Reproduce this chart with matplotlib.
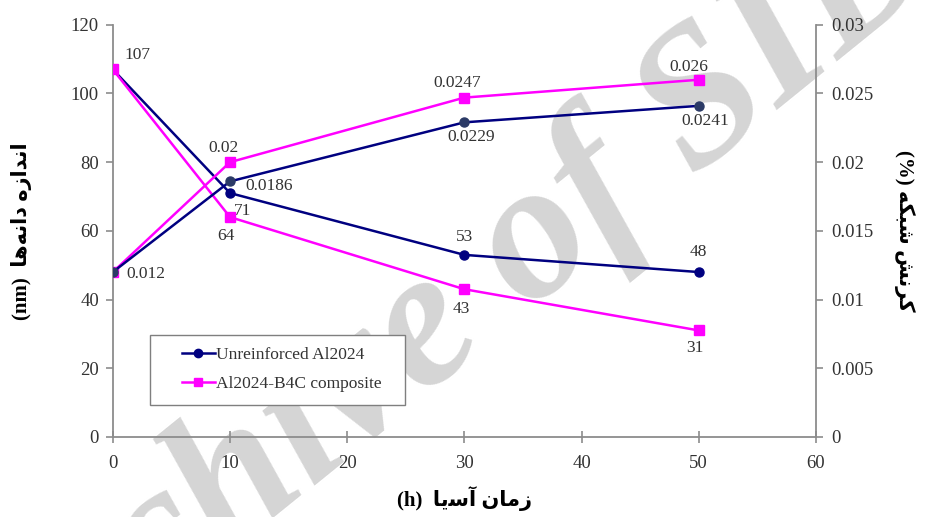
import matplotlib
matplotlib.use("Agg")
import matplotlib.pyplot as plt
from matplotlib.ticker import FuncFormatter
from matplotlib.lines import Line2D
from matplotlib.patches import Rectangle

plt.rcParams["font.family"] = ["Liberation Serif", "DejaVu Sans"]

# ---- data ----
hours = [0, 10, 30, 50]
grain_unreinf = [107, 71, 53, 48]
grain_comp = [107, 64, 43, 31]
strain_unreinf = [0.012, 0.0186, 0.0229, 0.0241]
strain_comp = [0.012, 0.02, 0.0247, 0.026]

grain_lbl_unreinf = ["107", "71", "53", "48"]
grain_lbl_comp = ["", "64", "43", "31"]
strain_lbl_unreinf = ["0.012", "0.0186", "0.0229", "0.0241"]
strain_lbl_comp = ["", "0.02", "0.0247", "0.026"]

legend_names = ["Unreinforced Al2024", "Al2024-B4C composite"]

# Persian labels (presentation forms, visual order)
ylabel_left = "(nm)  \uFE8E\uFEEB\uFEEA\uFEE7\uFE8D\uFEA9 \uFEE9\uFEAF\uFE8D\uFEAA\uFEE7\uFE8D"
ylabel_right = "(%) \uFEEA\uFB91\uFE92\uFEB7 \uFEB6\uFEE7\uFEAE\uFB90"
xlabel = "(h)  \uFE8E\uFBFE\uFEB3\uFE81 \uFEE5\uFE8E\uFEE3\uFEAF"

NAVY = "#000080"
NAVY_MK = "#2b3a66"
MAG = "#ff00ff"
AXC = "#8c8c8c"
TXT = "#333333"

fig = plt.figure(figsize=(9.25, 5.17), dpi=100)
ax = fig.add_axes([0.122, 0.155, 0.760, 0.797])
ax.set_facecolor("none")
ax2 = ax.twinx()
ax2.set_facecolor("none")

# watermark
fig.text(0.48, 0.37, "Archive of SID", rotation=39, fontsize=142,
         fontstyle="italic", fontweight="bold", color="#d5d5d5",
         ha="center", va="center", zorder=-5,
         family=["Liberation Serif", "DejaVu Sans"])

# grain size (left axis)
ax.plot(hours, grain_unreinf, color=NAVY, lw=1.8, marker="o", ms=6.5, zorder=3)
ax.plot(hours, grain_comp, color=MAG, lw=1.8, marker="s", ms=6.5, zorder=4)

# strain (right axis)
ax2.plot(hours, strain_comp, color=MAG, lw=1.8, marker="s", ms=6.5, zorder=3)
ax2.plot(hours, strain_unreinf, color=NAVY, lw=1.8, marker="o", ms=6.5,
         mfc=NAVY_MK, mec=NAVY_MK, zorder=4)

ax.set_xlim(0, 60)
ax.set_ylim(0, 120)
ax2.set_ylim(0, 0.03)
ax.set_xticks(range(0, 61, 10))
ax.set_yticks(range(0, 121, 20))
ax2.set_yticks([0, 0.005, 0.01, 0.015, 0.02, 0.025, 0.03])
ax2.yaxis.set_major_formatter(FuncFormatter(lambda v, p: "%g" % round(v, 4)))

for a in (ax, ax2):
    a.spines["top"].set_visible(False)
    for s in ("left", "right", "bottom"):
        a.spines[s].set_color(AXC)
        a.spines[s].set_linewidth(1.3)
ax.spines["right"].set_visible(False)
ax2.spines["left"].set_visible(False)
ax2.spines["bottom"].set_visible(False)

ax.tick_params(axis="x", direction="inout", length=8, width=1.2, color=AXC,
               labelsize=13.5, labelcolor=TXT, pad=9)
ax.tick_params(axis="y", direction="out", length=5, width=1.2, color=AXC,
               labelsize=13.5, labelcolor=TXT, pad=5)
ax2.tick_params(axis="y", direction="out", length=5, width=1.2, color=AXC,
                labelsize=13.5, labelcolor=TXT, pad=6)

# data labels
fs = 12.5
off_gu = [(25, 14), (13, -18), (0, 18), (0, 20)]
off_gc = [(0, 0), (-4, -19), (-3, -20), (-4, -18)]
off_su = [(33, -2), (39, -5), (7, -15), (7, -15)]
off_sc = [(0, 0), (-7, 14), (-7, 15), (-10, 13)]

for x, y, t, o in zip(hours, grain_unreinf, grain_lbl_unreinf, off_gu):
    ax.annotate(t, (x, y), xytext=o, textcoords="offset pixels", ha="center",
                va="center", fontsize=fs, color=TXT)
for x, y, t, o in zip(hours, grain_comp, grain_lbl_comp, off_gc):
    if t:
        ax.annotate(t, (x, y), xytext=o, textcoords="offset pixels", ha="center",
                    va="center", fontsize=fs, color=TXT)
for x, y, t, o in zip(hours, strain_unreinf, strain_lbl_unreinf, off_su):
    ax2.annotate(t, (x, y), xytext=o, textcoords="offset pixels", ha="center",
                 va="center", fontsize=fs, color=TXT)
for x, y, t, o in zip(hours, strain_comp, strain_lbl_comp, off_sc):
    if t:
        ax2.annotate(t, (x, y), xytext=o, textcoords="offset pixels", ha="center",
                     va="center", fontsize=fs, color=TXT)

# axis labels
lab_font = dict(fontsize=15, fontweight="bold", color="black",
                family=["Liberation Serif", "DejaVu Sans"])
ax.set_ylabel(ylabel_left, labelpad=28, **lab_font)
ax2.set_ylabel(ylabel_right, rotation=-90, labelpad=30, **lab_font)
ax.set_xlabel(xlabel, labelpad=10, **lab_font)

# legend: frame drawn separately, entries inside
ax2.add_patch(Rectangle((0.053, 0.078), 0.362, 0.17, transform=ax2.transAxes,
                        facecolor="white", edgecolor="#7f7f7f", lw=1.0, zorder=5))
handles = [
    Line2D([], [], color=NAVY, lw=1.8, marker="o", ms=6),
    Line2D([], [], color=MAG, lw=1.8, marker="s", ms=6),
]
leg = ax2.legend(handles, legend_names, loc="center left",
                 bbox_to_anchor=(0.098, 0.163), borderaxespad=0, borderpad=0,
                 fontsize=12.5, frameon=False, handlelength=1.9,
                 handletextpad=0.1, labelspacing=0.75)
leg.set_zorder(6)
for t in leg.get_texts():
    t.set_color(TXT)

fig.savefig("out.png", dpi=100, facecolor="white")
